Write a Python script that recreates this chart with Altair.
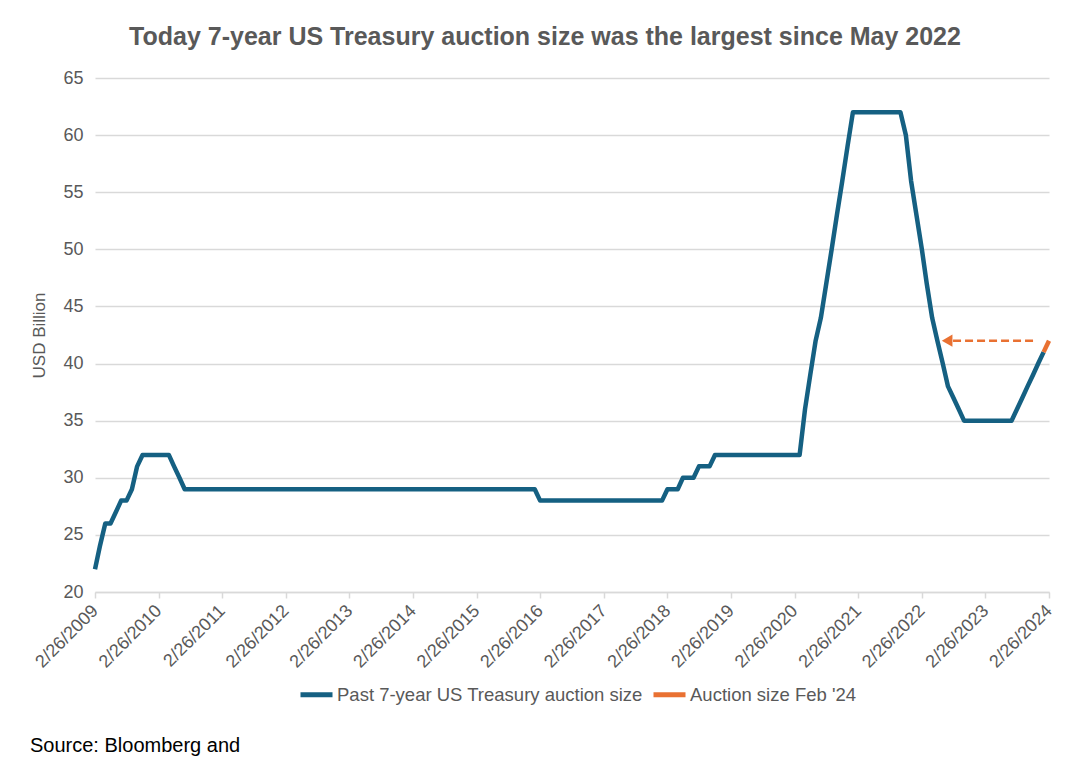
import altair as alt
import pandas as pd

BLUE = "#156082"
ORANGE = "#E97132"
GREY = "#595959"
GRID = "#d9d9d9"
FONT = "Liberation Sans"
TITLE_FONT = "Liberation Sans"

# Monthly 7-year auction sizes (USD bn)
v2009 = [22, 24, 26, 26, 27, 28, 28, 29, 31, 32, 32]  # Feb..Dec
v2010 = [32, 32, 32, 32, 31, 30, 29, 29, 29, 29, 29, 29]
v2011 = [29, 29, 29, 29, 29, 29, 29, 29, 29, 29, 29, 29]
v2012 = [29, 29, 29, 29, 29, 29, 29, 29, 29, 29, 29, 29]
v2013 = [29, 29, 29, 29, 29, 29, 29, 29, 29, 29, 29, 29]
v2014 = [29, 29, 29, 29, 29, 29, 29, 29, 29, 29, 29, 29]
v2015 = [29, 29, 29, 29, 29, 29, 29, 29, 29, 29, 29, 29]
v2016 = [29, 28, 28, 28, 28, 28, 28, 28, 28, 28, 28, 28]
v2017 = [28, 28, 28, 28, 28, 28, 28, 28, 28, 28, 28, 28]
v2018 = [28, 29, 29, 29, 30, 30, 30, 31, 31, 31, 32, 32]
v2019 = [32, 32, 32, 32, 32, 32, 32, 32, 32, 32, 32, 32]
v2020 = [32, 32, 32, 36, 39, 42, 44, 47, 50, 53, 56, 59]
v2021 = [62, 62, 62, 62, 62, 62, 62, 62, 62, 62, 60, 56]
v2022 = [53, 50, 47, 44, 42, 40, 38, 37, 36, 35, 35, 35]
v2023 = [35, 35, 35, 35, 35, 35, 35, 36, 37, 38, 39, 40]
v2024 = [41]  # Jan

feb24_dates = ["2024-01-26", "2024-02-26"]
feb24_vals = [41, 42]

SERIES_PAST = "Past 7-year US Treasury auction size"
SERIES_FEB = "Auction size Feb '24"

past_vals = (v2009 + v2010 + v2011 + v2012 + v2013 + v2014 + v2015 + v2016
             + v2017 + v2018 + v2019 + v2020 + v2021 + v2022 + v2023 + v2024)
past_dates = []
yy, mm = 2009, 2
for _ in past_vals:
    past_dates.append(f"{yy}-{mm:02d}-26")
    mm += 1
    if mm > 12:
        mm = 1
        yy += 1

df = pd.DataFrame({
    "date": past_dates + feb24_dates,
    "value": past_vals + feb24_vals,
    "series": [SERIES_PAST] * len(past_vals) + [SERIES_FEB] * len(feb24_vals),
})

# Arrow: from the latest auction back to the May 2022 level
arrow_df = pd.DataFrame({"start": ["2022-08-24"], "end": ["2023-12-19"], "value": [42]})
head_df = pd.DataFrame({"date": ["2022-07-21"], "value": [42]})
source_df = pd.DataFrame({"label": ["Source: Bloomberg and"]})

tick_years = list(range(2009, 2025))
x_scale = alt.Scale(
    type="utc",
    domain=[alt.DateTime(year=2009, month=2, date=26, utc=True),
            alt.DateTime(year=2024, month=2, date=26, utc=True)],
)
x_axis = alt.Axis(
    values=[alt.DateTime(year=y, month=2, date=26, utc=True) for y in tick_years],
    labelExpr="utcFormat(datum.value, '%-m/%-d/%Y')",
    labelAngle=315, labelAlign="right", labelBaseline="middle",
    labelFontSize=18, labelColor=GREY, labelFont=FONT, labelPadding=10,
    grid=False, domainColor=GRID, domainWidth=1.5, tickColor=GRID, tickSize=6,
    tickWidth=1.5, title=None, labelOverlap=False,
)
y_scale = alt.Scale(domain=[20, 65], nice=False, zero=False)
y_axis = alt.Axis(
    values=[20, 25, 30, 35, 40, 45, 50, 55, 60, 65],
    labelFontSize=18, labelColor=GREY, labelFont=FONT, labelPadding=12,
    grid=True, gridColor=GRID, gridWidth=1.5, domain=False, ticks=False,
    title="USD Billion", titleFontSize=17, titleColor=GREY, titleFont=FONT,
    titleFontWeight="normal", titlePadding=14,
)

lines = alt.Chart(df).mark_line(strokeWidth=4.5, strokeJoin="round").encode(
    x=alt.X("date:T", scale=x_scale, axis=x_axis),
    y=alt.Y("value:Q", scale=y_scale, axis=y_axis),
    color=alt.Color(
        "series:N",
        scale=alt.Scale(domain=[SERIES_PAST, SERIES_FEB], range=[BLUE, ORANGE]),
        legend=alt.Legend(
            title=None, orient="none", legendX=203, legendY=598,
            direction="horizontal", columns=2, symbolType="stroke",
            symbolSize=1024, symbolStrokeWidth=5, labelFontSize=18.5,
            labelColor=GREY, labelFont=FONT, labelOffset=2, columnPadding=0,
            labelLimit=0,
        ),
    ),
    order=alt.Order("date:T"),
)

arrow_line = alt.Chart(arrow_df).mark_rule(
    color=ORANGE, strokeWidth=2.5, strokeDash=[8, 4]
).encode(x="start:T", x2="end:T", y="value:Q")

arrow_head = alt.Chart(head_df).mark_point(
    shape="triangle-left", filled=True, color=ORANGE, opacity=1, size=150
).encode(x="date:T", y="value:Q")

source = alt.Chart(source_df).mark_text(
    align="left", baseline="alphabetic", fontSize=20, font=FONT, color="black"
).encode(x=alt.value(-65), y=alt.value(674), text="label:N")

chart = alt.layer(lines, arrow_line, arrow_head, source).properties(
    width=954,
    height=514,
    padding={"left": 87, "top": 70, "right": 30, "bottom": 168},
    autosize=alt.AutoSizeParams(type="none"),
    title=alt.TitleParams(
        "Today 7-year US Treasury auction size was the largest since May 2022",
        fontSize=25, font=TITLE_FONT, fontWeight="bold", color=GREY,
        anchor="middle", frame="group", dx=-27, offset=19,
    ),
    background="white",
).configure_view(stroke=None)

chart.save("out.html", embed_options={"renderer": "svg", "actions": False})
